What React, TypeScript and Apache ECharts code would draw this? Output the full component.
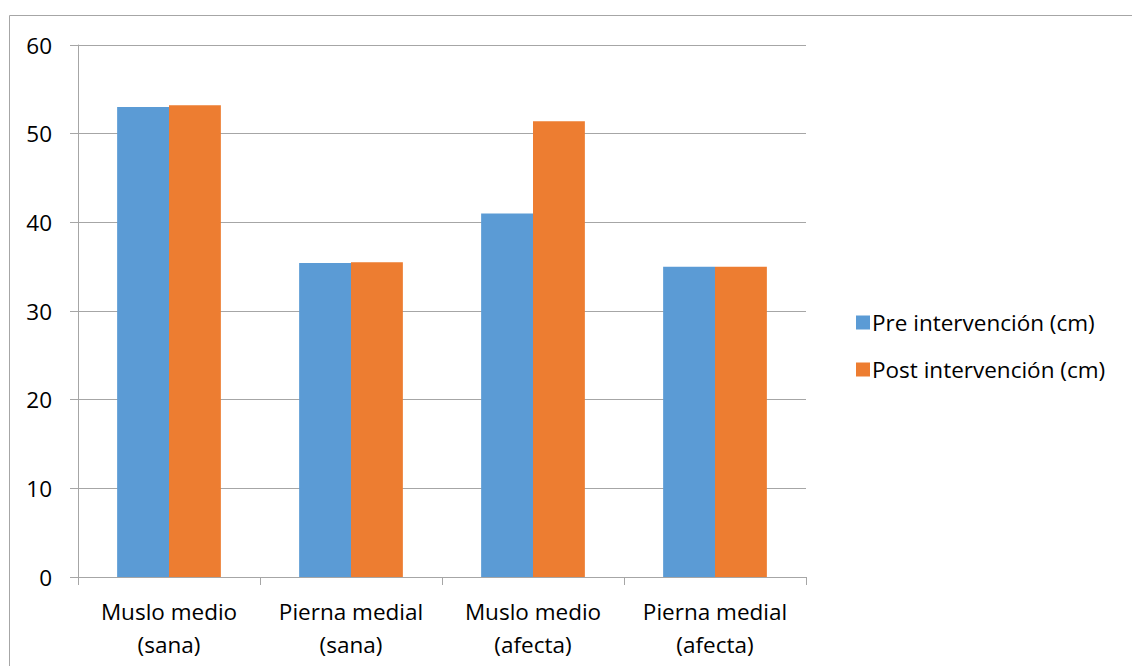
import React, { useEffect, useRef } from "react";
import * as echarts from "echarts";

const categories = [
  "Muslo medio\n(sana)",
  "Pierna medial\n(sana)",
  "Muslo medio\n(afecta)",
  "Pierna medial\n(afecta)",
];
const preValues = [53.0, 35.4, 41.0, 35.0];
const postValues = [53.2, 35.5, 51.4, 35.0];
const seriesNames = ["Pre intervención (cm)", "Post intervención (cm)"];

const FONT = "'Open Sans', 'Noto Sans', sans-serif";
const FS = 22.5;

export default function App() {
  const ref = useRef<HTMLDivElement>(null);
  useEffect(() => {
    const chart = echarts.init(ref.current!, null, { renderer: "svg" });
    chart.setOption({
      animation: false,
      textStyle: { fontFamily: FONT },
      graphic: [
        {
          type: "rect",
          shape: { x: 9.5, y: 15.5, width: 1140, height: 700 },
          style: { fill: "none", stroke: "#a6a6a6", lineWidth: 1 },
          silent: true,
        },
      ],
      grid: { left: 78, top: 45, right: 326, bottom: 89, containLabel: false },
      legend: {
        orient: "vertical",
        left: 851,
        top: 306,
        itemWidth: 14,
        itemHeight: 14,
        itemGap: 24,
        icon: "rect",
        textStyle: { fontSize: FS, color: "#000", fontFamily: FONT, padding: [0, 0, 0, -3] },
        data: seriesNames,
      },
      xAxis: {
        type: "category",
        data: categories,
        axisLine: { lineStyle: { color: "#a6a6a6", width: 1 } },
        axisTick: { show: true, length: 8, lineStyle: { color: "#a6a6a6" } },
        axisLabel: {
          color: "#000",
          fontSize: FS,
          lineHeight: 33,
          margin: 18,
          interval: 0,
          fontFamily: FONT,
        },
      },
      yAxis: {
        type: "value",
        min: 0,
        max: 60,
        interval: 10,
        axisLine: { show: true, lineStyle: { color: "#a6a6a6" } },
        axisTick: { show: true, length: 8, lineStyle: { color: "#a6a6a6" } },
        axisLabel: { color: "#000", fontSize: FS, margin: 26, fontFamily: FONT },
        splitLine: { lineStyle: { color: "#a6a6a6", width: 1 } },
      },
      series: [
        {
          name: seriesNames[0],
          type: "bar",
          data: preValues,
          barGap: "0%",
          barCategoryGap: "43%",
          itemStyle: { color: "#5b9bd5" },
        },
        {
          name: seriesNames[1],
          type: "bar",
          data: postValues,
          barGap: "0%",
          barCategoryGap: "43%",
          itemStyle: { color: "#ed7d31" },
        },
      ],
    });
    return () => chart.dispose();
  }, []);
  return <div ref={ref} style={{ width: 1132, height: 666, position: "absolute", left: 0, top: 0 }} />;
}
